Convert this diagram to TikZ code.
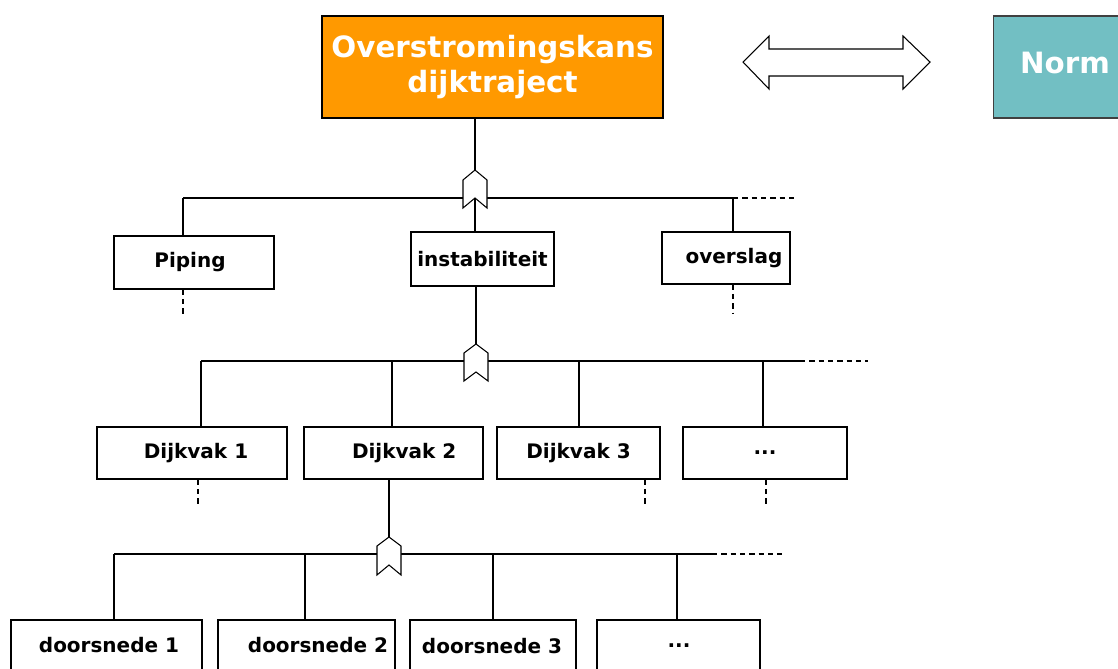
\documentclass[tikz,border=0pt]{standalone}
\usepackage{fontspec}
\setmainfont{DejaVu Sans}
\begin{document}
\begin{tikzpicture}[x=0.75pt,y=-0.75pt,
  line width=0.8pt,
  box/.style={draw=black,line width=0.8pt,fill=white,inner sep=0pt,font=\fontsize{15}{18}\selectfont\bfseries},
  big/.style={inner sep=0pt,align=center,text=white,font=\fontsize{22}{28}\selectfont\bfseries},
  gate/.style={draw=black,fill=white,line width=0.8pt,line join=miter},
  link/.style={draw=black,line width=0.8pt},
  dashlink/.style={draw=black,line width=0.8pt,dash pattern=on 4pt off 3pt}]
\useasboundingbox (0,0) rectangle (1118,668);
\clip (0,0) rectangle (1118,668);
\definecolor{orangebox}{RGB}{255,153,0}
\definecolor{tealbox}{RGB}{114,191,195}

% top
\node[big,draw=black,fill=orangebox,minimum width=341*0.75pt,minimum height=102*0.75pt] (top) at (492.5,67) {Overstromingskans\\[-2pt]dijktraject};
\node[big,draw=black!75,fill=tealbox,minimum width=132*0.75pt,minimum height=102*0.75pt,anchor=west] (norm) at (993,67) {};
\node[big] at (1065,63) {Norm};
\draw[link,fill=white,line join=miter] (743,62) -- (769,36) -- (769,49) -- (903,49) -- (903,36) -- (930,62) -- (903,89) -- (903,76) -- (769,76) -- (769,89) -- cycle;

% level 1
\node[box,minimum width=160*0.75pt,minimum height=53*0.75pt] (piping) at (194,262.5) {\hspace*{-6pt}Piping};
\node[box,minimum width=143*0.75pt,minimum height=54*0.75pt] (insta) at (482.5,259) {instabiliteit};
\node[box,minimum width=128*0.75pt,minimum height=52*0.75pt] (overslag) at (726,258) {\hspace*{12pt}overslag};

% gate 1
\coordinate (g1) at (475,170);
\coordinate (g1n) at (475,198);
\coordinate (b1l) at (183,198);
\coordinate (b1r) at (733,198);
\coordinate (b1e) at (797,198);
\draw[link] (b1l) -- (b1r);
\draw[dashlink] (b1r) -- (b1e);
\draw[link] (b1l) -- (piping.north -| b1l);
\draw[link] (b1r) -- (overslag.north -| b1r);
\draw[link] (top.south -| g1) -- (g1);
\draw[gate] (g1) -- ++(-12,10) -- ++(0,28) -- ++(12,-10) -- ++(12,10) -- ++(0,-28) -- cycle;
\draw[link] (g1n) -- (insta.north -| g1n);
\coordinate (p1) at (183,316);
\coordinate (o1) at (733,313);
\draw[dashlink] (piping.south -| p1) -- (p1);
\draw[dashlink] (overslag.south -| o1) -- (o1);

% level 2
\node[box,minimum width=190*0.75pt,minimum height=52*0.75pt] (d1) at (192,453) {\hspace*{6pt}Dijkvak 1};
\node[box,minimum width=179*0.75pt,minimum height=52*0.75pt] (d2) at (393.5,453) {\hspace*{16pt}Dijkvak 2};
\node[box,minimum width=163*0.75pt,minimum height=52*0.75pt] (d3) at (578.5,453) {Dijkvak 3};
\node[box,minimum width=164*0.75pt,minimum height=52*0.75pt] (d4) at (765,453) {...};

\coordinate (g2) at (476,344);
\coordinate (b2l) at (201,361);
\coordinate (b2r) at (800,361);
\coordinate (b2e) at (868,361);
\draw[link] (b2l) -- (b2r);
\draw[dashlink] (b2r) -- (b2e);
\coordinate (x2a) at (392,361);
\coordinate (x2b) at (579,361);
\coordinate (x2c) at (763,361);
\draw[link] (b2l) -- (d1.north -| b2l);
\draw[link] (x2a) -- (d2.north -| x2a);
\draw[link] (x2b) -- (d3.north -| x2b);
\draw[link] (x2c) -- (d4.north -| x2c);
\draw[link] (insta.south -| g2) -- (g2);
\draw[gate] (g2) -- ++(-12,9) -- ++(0,28) -- ++(12,-9) -- ++(12,9) -- ++(0,-28) -- cycle;
\coordinate (s1) at (198,507);
\coordinate (s3) at (645,507);
\coordinate (s4) at (766,507);
\draw[dashlink] (d1.south -| s1) -- (s1);
\draw[dashlink] (d3.south -| s3) -- (s3);
\draw[dashlink] (d4.south -| s4) -- (s4);

% level 3
\node[box,minimum width=191*0.75pt,minimum height=60*0.75pt] (e1) at (106.5,650) {};
\node[box,minimum width=177*0.75pt,minimum height=60*0.75pt] (e2) at (306.5,650) {};
\node[box,minimum width=166*0.75pt,minimum height=60*0.75pt] (e3) at (493,650) {};
\node[box,minimum width=163*0.75pt,minimum height=60*0.75pt] (e4) at (678.5,650) {};
\node[box,draw=none,fill=none] at (109,645) {doorsnede 1};
\node[box,draw=none,fill=none] at (318,645) {doorsnede 2};
\node[box,draw=none,fill=none] at (492,646) {doorsnede 3};
\node[box,draw=none,fill=none] at (679,646) {...};

\coordinate (g3) at (389,537);
\coordinate (b3l) at (114,554);
\coordinate (b3r) at (712,554);
\coordinate (b3e) at (782,554);
\draw[link] (b3l) -- (b3r);
\draw[dashlink] (b3r) -- (b3e);
\coordinate (x3a) at (305,554);
\coordinate (x3b) at (493,554);
\coordinate (x3c) at (677,554);
\draw[link] (b3l) -- (e1.north -| b3l);
\draw[link] (x3a) -- (e2.north -| x3a);
\draw[link] (x3b) -- (e3.north -| x3b);
\draw[link] (x3c) -- (e4.north -| x3c);
\draw[link] (d2.south -| g3) -- (g3);
\draw[gate] (g3) -- ++(-12,9) -- ++(0,29) -- ++(12,-10) -- ++(12,10) -- ++(0,-29) -- cycle;
\end{tikzpicture}
\end{document}
